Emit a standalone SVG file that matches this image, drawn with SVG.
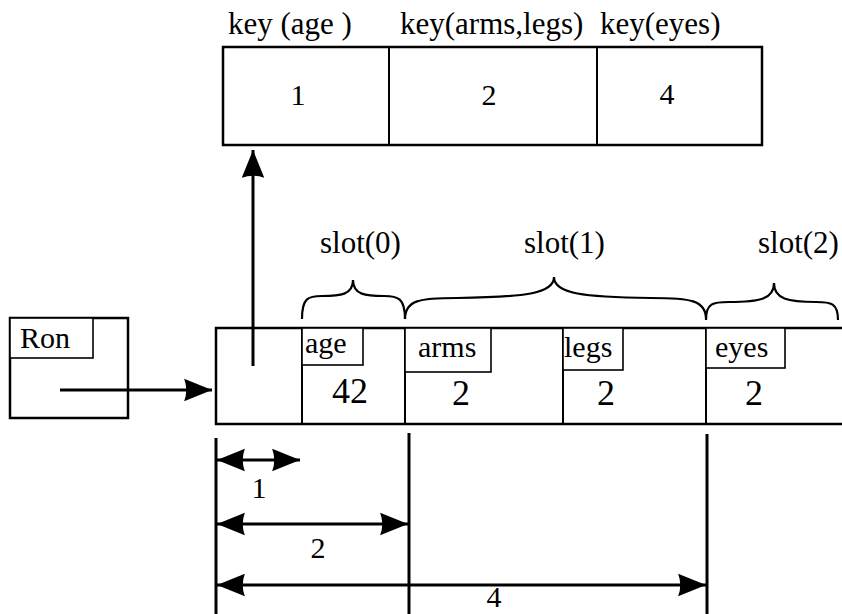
<svg xmlns="http://www.w3.org/2000/svg" width="842" height="614" viewBox="0 0 842 614">
<style>
text{font-family:"Liberation Serif","Times New Roman",serif;fill:#000}
.lbl{font-size:30px}
.key{font-size:31px}
.val{font-size:36px;text-anchor:middle}
.num{font-size:30px;text-anchor:middle}
.box{fill:#fff;stroke:#000;stroke-width:2.5}
.div{fill:none;stroke:#000;stroke-width:2}
.tag{fill:#fff;stroke:#000;stroke-width:1.6}
.ln{fill:none;stroke:#000;stroke-width:3}
.brace{fill:none;stroke:#000;stroke-width:2.2}
</style>
<defs>
<marker id="ah" markerUnits="userSpaceOnUse" markerWidth="30" markerHeight="24" viewBox="-27 -11 28 22" refX="0" refY="0" orient="auto-start-reverse">
<path d="M0,0 L-26,-10.5 Q-22,0 -26,10.5 Z" fill="#000"/>
</marker>
</defs>

<g id="keytable">
<rect class="box" x="223" y="47" width="539" height="98"/>
<line class="div" x1="389" y1="47" x2="389" y2="145"/>
<line class="div" x1="597" y1="47" x2="597" y2="145"/>
<text class="key" x="228" y="34">key (age )</text>
<text class="key" x="400" y="34">key(arms,legs)</text>
<text class="key" x="600" y="34">key(eyes)</text>
<text class="num" x="298" y="105">1</text>
<text class="num" x="489" y="105">2</text>
<text class="num" x="667" y="104">4</text>
</g>

<g id="ron">
<rect class="box" x="10" y="318" width="118" height="100"/>
<rect class="tag" x="10" y="318" width="83" height="40"/>
<text class="lbl" x="20" y="348">Ron</text>
</g>

<g id="record">
<path class="box" d="M842,328 L216,328 L216,424 L842,424"/>
<line class="div" x1="302" y1="328" x2="302" y2="424"/>
<line class="div" x1="405" y1="328" x2="405" y2="424"/>
<line class="div" x1="563" y1="328" x2="563" y2="424" stroke-width="1.6"/>
<line class="div" x1="706" y1="328" x2="706" y2="424" stroke-width="1.6"/>
<rect class="tag" x="302" y="328" width="61" height="37"/>
<text class="lbl" x="305" y="353">age</text>
<text class="val" x="350" y="403">42</text>
<rect class="tag" x="405" y="328" width="86" height="44"/>
<text class="lbl" x="418" y="357">arms</text>
<text class="val" x="461" y="405">2</text>
<rect class="tag" x="563" y="328" width="60" height="42"/>
<text class="lbl" x="564" y="357">legs</text>
<text class="val" x="606" y="405">2</text>
<rect class="tag" x="706" y="328" width="79" height="40"/>
<text class="lbl" x="715" y="357">eyes</text>
<text class="val" x="754" y="405">2</text>
</g>

<g id="slots">
<path class="brace" d="M302,319 C302,298 308,296 322,296 C340,296 353,295 353,280 C353,295 366,296 384,296 C398,296 405,298 405,319"/>
<path class="brace" d="M405,319 C405,300 420,298 457,298 C524,297 554,294 554,277 C554,294 584,297 651,298 C690,298 706,300 706,319"/>
<path class="brace" d="M706,320 C706,303 713,302 729,302 C760,302 774,299 774,283 C774,299 788,302 816,302 C831,302 838,303 838,320"/>
<text class="key" x="320" y="253">slot(0)</text>
<text class="key" x="524" y="253">slot(1)</text>
<text class="key" x="758" y="253">slot(2)</text>
</g>

<g id="connectors">
<line class="ln" x1="253" y1="366" x2="253" y2="150" marker-end="url(#ah)"/>
<line class="ln" x1="60" y1="390" x2="212" y2="390" marker-end="url(#ah)"/>
</g>

<g id="dimensions">
<line class="ln" x1="216" y1="438" x2="216" y2="614"/>
<line class="ln" x1="409" y1="433" x2="409" y2="614"/>
<line class="ln" x1="707" y1="434" x2="707" y2="614"/>
<line class="ln" x1="217" y1="460" x2="300" y2="460" marker-start="url(#ah)" marker-end="url(#ah)"/>
<line class="ln" x1="217" y1="524" x2="408" y2="524" marker-start="url(#ah)" marker-end="url(#ah)"/>
<line class="ln" x1="217" y1="585" x2="706" y2="585" marker-start="url(#ah)" marker-end="url(#ah)"/>
<text class="num" x="494" y="607" font-size="27">4</text>
</g>
<g id="dimlabels">
<text class="num" x="259" y="498">1</text>
<text class="num" x="318" y="558">2</text>
</g>
</svg>
